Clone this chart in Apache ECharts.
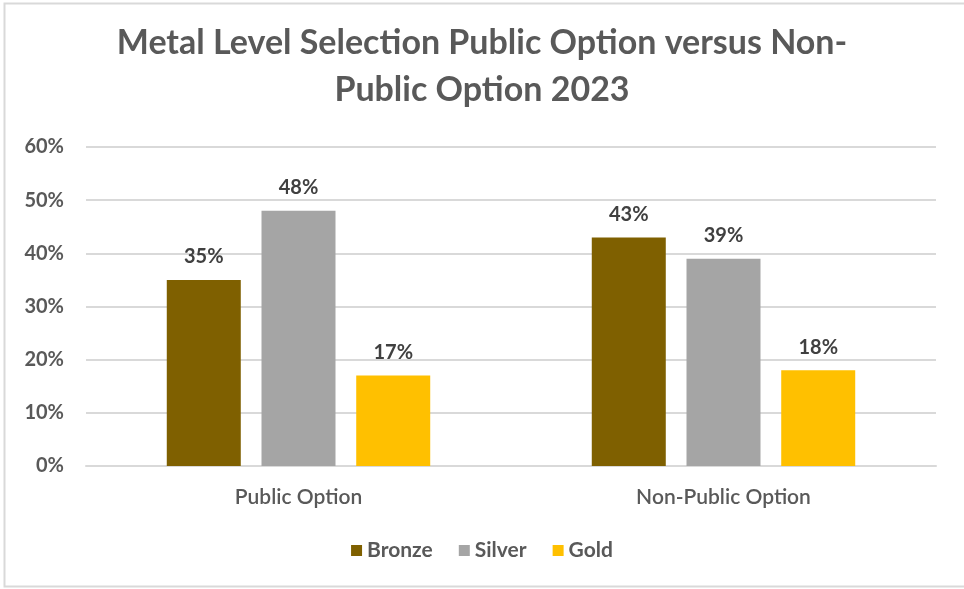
<!DOCTYPE html>
<html>
<head>
<meta charset="utf-8">
<script src="https://cdn.jsdelivr.net/npm/echarts@6/dist/echarts.min.js"></script>
<style>
  html, body { margin: 0; padding: 0; background: #ffffff; }
  #chart { width: 964px; height: 589px; }
</style>
</head>
<body>
<div id="chart"></div>
<script>
// Plan categories and the share of enrollees choosing each metal level (%)
const categories = ['Public Option', 'Non-Public Option'];
const bronze = [35, 43];
const silver = [48, 39];
const gold = [17, 18];
const yTicks = [0, 10, 20, 30, 40, 50, 60];

const FONT = 'Lato, "Open Sans", sans-serif';
const TEXT = '#595959';

const chart = echarts.init(document.getElementById('chart'), null, { renderer: 'canvas' });

function bar(name, data, color) {
  return {
    name: name,
    type: 'bar',
    data: data,
    barWidth: 74,
    barGap: '28%',
    itemStyle: { color: color },
    label: {
      show: true,
      position: 'top',
      distance: 13,
      formatter: p => p.value + '%',
      fontFamily: FONT,
      fontWeight: 'bold',
      fontSize: 20,
      color: '#404040'
    }
  };
}

chart.setOption({
  animation: false,
  backgroundColor: '#ffffff',
  title: {
    text: 'Metal Level Selection Public Option versus Non-\nPublic Option 2023',
    left: 'center',
    top: 15,
    textStyle: {
      fontFamily: FONT,
      fontWeight: 'bold',
      fontSize: 34,
      lineHeight: 47,
      color: TEXT
    }
  },
  legend: {
    bottom: 23,
    left: 'center',
    itemWidth: 11,
    itemHeight: 11,
    itemGap: 26,
    icon: 'rect',
    textStyle: { fontFamily: FONT, fontWeight: 'bold', fontSize: 21, color: TEXT },
    data: ['Bronze', 'Silver', 'Gold']
  },
  grid: { left: 86, right: 28, top: 147, bottom: 123, containLabel: false },
  xAxis: {
    type: 'category',
    data: categories,
    axisTick: { show: false },
    axisLine: { show: true, lineStyle: { color: '#d9d9d9', width: 2 } },
    axisLabel: { fontFamily: FONT, fontWeight: 600, fontSize: 21, color: TEXT, margin: 21 }
  },
  yAxis: {
    type: 'value',
    min: yTicks[0],
    max: yTicks[yTicks.length - 1],
    interval: 10,
    axisLine: { show: false },
    axisTick: { show: false },
    splitLine: { lineStyle: { color: '#d9d9d9', width: 2 } },
    axisLabel: {
      formatter: v => v + '%',
      fontFamily: FONT,
      fontWeight: 'bold',
      fontSize: 20,
      color: TEXT,
      margin: 22
    }
  },
  graphic: [{
    type: 'rect',
    shape: { x: 4.5, y: 3.5, width: 980, height: 583 },
    style: { fill: null, stroke: '#d9d9d9', lineWidth: 2 },
    silent: true,
    z: -1
  }],
  series: [
    bar('Bronze', bronze, '#7f6000'),
    bar('Silver', silver, '#a5a5a5'),
    bar('Gold', gold, '#ffc000')
  ]
});
</script>
</body>
</html>
